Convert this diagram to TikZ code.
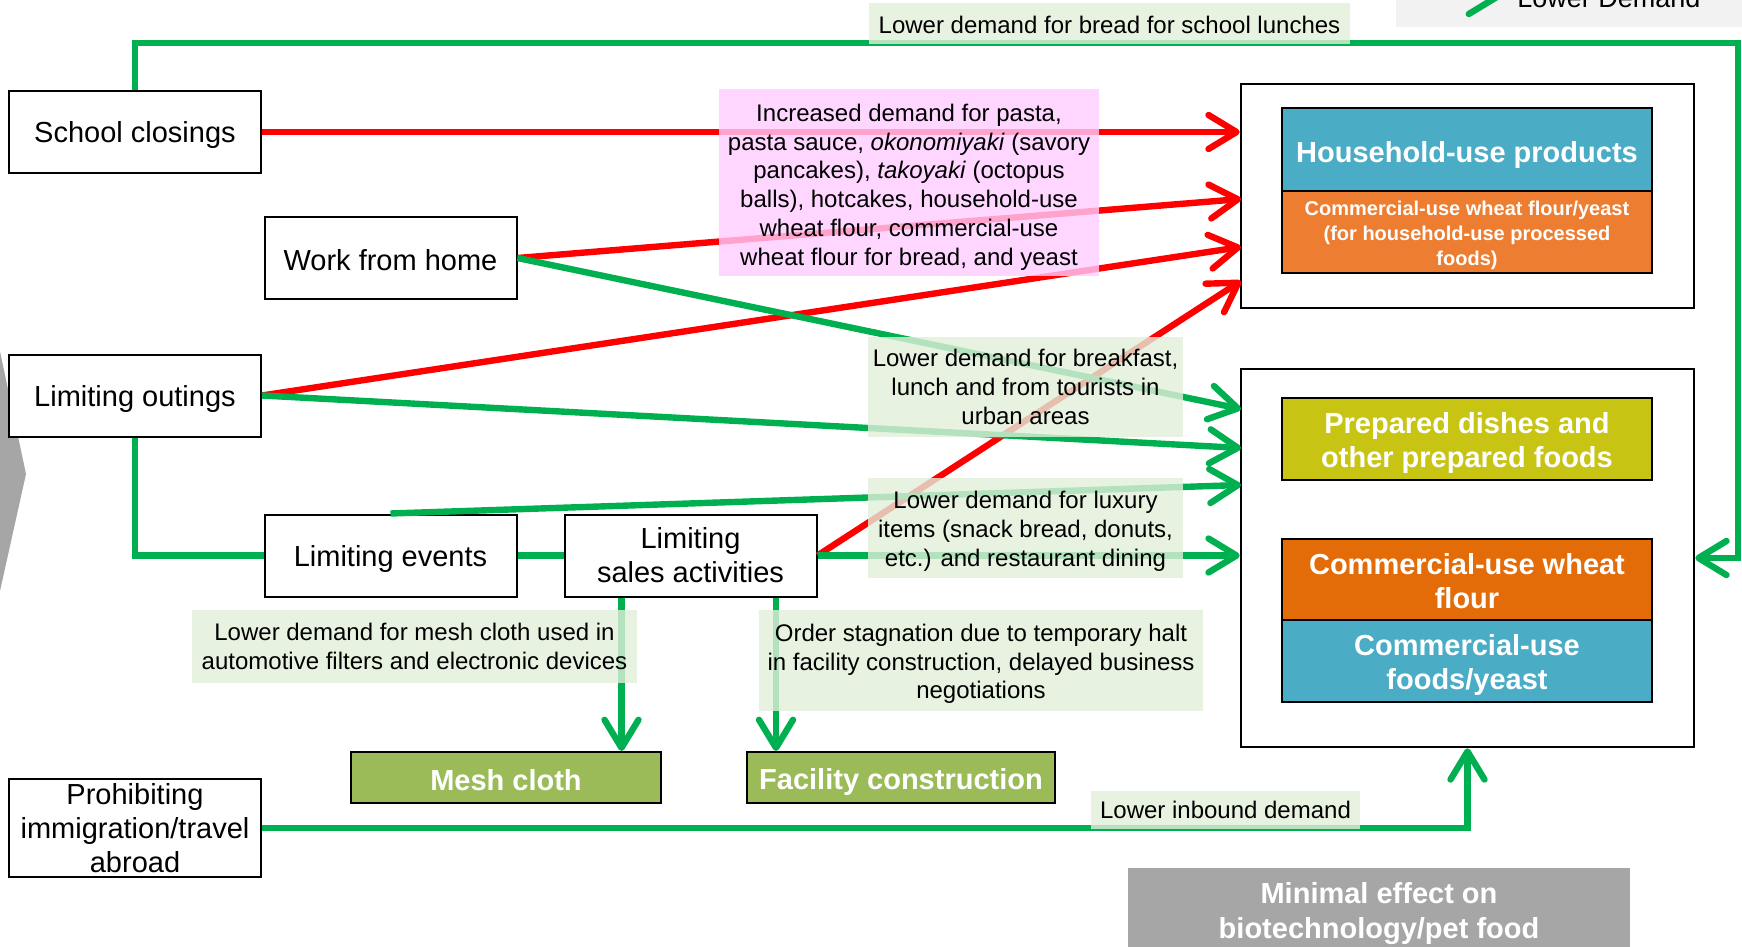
\documentclass[tikz,border=0pt]{standalone}
\usepackage{fontspec}
\setmainfont{Liberation Sans}
\usetikzlibrary{arrows.meta}
\definecolor{lessgreen}{HTML}{00B050}
\definecolor{morered}{HTML}{FF0000}
\definecolor{notegreen}{HTML}{E2EFDA}
\definecolor{notepink}{HTML}{FFCCFF}
\definecolor{hhblue}{HTML}{4BACC6}
\definecolor{hhorange}{HTML}{ED7D31}
\definecolor{bizorange}{HTML}{E36C09}
\definecolor{prepyellow}{HTML}{C8C414}
\definecolor{meshgreen}{HTML}{9BBB59}
\definecolor{minigray}{HTML}{A6A6A6}
\definecolor{keygray}{HTML}{F2F2F2}
\newcommand\liftline[1]{\rule{0pt}{#1}}
\begin{document}
\begin{tikzpicture}[x=0.5pt,y=-0.5pt]
  \tikzstyle{every node}=[inner sep=0pt,align=center]
  \tikzstyle{cause}=[draw,fill=white,line width=1pt,minimum width=126pt,minimum height=41pt,font=\fontsize{14.5}{17}\selectfont]
  \tikzstyle{prod}=[draw,line width=1pt,minimum width=185pt,text=white,font=\bfseries\fontsize{14.5}{17}\selectfont]
  \tikzstyle{note}=[fill=notegreen,fill opacity=0.8,text opacity=1,font=\fontsize{12}{14.4}\selectfont]
  \tikzstyle{more}=[draw=morered,line width=3.2pt,-{Straight Barb[length=14pt,width=17pt,round]}]
  \tikzstyle{less}=[draw=lessgreen,line width=3.2pt,-{Straight Barb[length=14pt,width=17pt,round]}]
  \tikzstyle{link}=[draw=lessgreen,line width=3.2pt]
  \useasboundingbox (0,0) rectangle (1742,947);
  % legend, cut at the top
  \fill [keygray] (1396,-10) rectangle (1760,27);
  \coordinate (keyA) at (1413,-3);
  \coordinate (keyB) at (1500,-3);
  \draw [less] (keyA) -- (keyB);
  \node (keytext) [anchor=base west,font=\fontsize{13.5}{16}\selectfont] at (1517,8) {Lower Demand};
  \fill [minigray] (-2,342) -- (26,474) -- (-2,600) -- cycle;
  % products
  \node (topbox) [draw,line width=1.3pt,minimum width=226.5pt,minimum height=112pt] at (1467.5,196) {};
  \node (lowbox) [draw,line width=1.3pt,minimum width=226.5pt,minimum height=189pt] at (1467.5,558) {};
  \node (hhprod) [prod,fill=hhblue,minimum height=41.5pt] at (1467,149.5) {\liftline{16pt}Household-use products};
  \node (hhflour) [prod,fill=hhorange,minimum height=41pt,font=\bfseries\fontsize{10}{12.5}\selectfont] at (1467,232) {\liftline{10.3pt}Commercial-use wheat flour/yeast\\(for household-use processed\\foods)};
  \node (prep) [prod,fill=prepyellow,minimum height=41pt] at (1467,439) {\liftline{15pt}Prepared dishes and\\other prepared foods};
  \node (bizflour) [prod,fill=bizorange,minimum height=40.5pt] at (1467,579.5) {\liftline{12.3pt}Commercial-use wheat\\flour};
  \node (bizfood) [prod,fill=hhblue,minimum height=41pt] at (1467,661) {\liftline{14.5pt}Commercial-use\\foods/yeast};
  \node (mesh) [prod,fill=meshgreen,minimum width=155pt,minimum height=25.5pt] at (506,777.5) {\liftline{12.8pt}Mesh cloth};
  \node (plant) [prod,fill=meshgreen,minimum width=154pt,minimum height=25.5pt] at (901,777.5) {\liftline{15pt}Facility construction};
  \node (minor) [fill=minigray,text=white,font=\bfseries\fontsize{14.5}{17.5}\selectfont,minimum width=251pt,minimum height=43pt] at (1379,911) {\liftline{13.4pt}Minimal effect on\\biotechnology/pet food};
  % causes
  \node (school) [cause] at (135,132) {\liftline{13.4pt}School closings};
  \node (wfh) [cause] at (390.5,258) {\liftline{12.5pt}Work from home};
  \node (outings) [cause] at (135,395.5) {\liftline{14pt}Limiting outings};
  \node (events) [cause] at (390.5,555.5) {\liftline{13.8pt}Limiting events};
  \node (sales) [cause] at (690.5,555.5) {Limiting\\sales activities};
  \node (ban) [cause,minimum height=49pt] at (135,828) {Prohibiting\\immigration/travel\\abroad};
  % arrow ends
  \coordinate (inT1) at (1241,199);
  \coordinate (inT2) at (1241,247);
  \coordinate (inT3) at (1241,281);
  \coordinate (inL1) at (1241,409);
  \coordinate (inL2) at (1241,448);
  \coordinate (inL3) at (1241,485);
  \coordinate (rt) at (1738,43);
  \coordinate (meshin) at ([xshift=29pt]sales.south west);
  \coordinate (plantin) at ([xshift=-20.75pt]sales.south east);
  % increased demand
  \draw [more] (school.east) -- (school.east -| topbox.west);
  \draw [more] (wfh.east) -- (inT1);
  \draw [more] (outings.east) -- (inT2);
  \draw [more] (sales.east) -- (inT3);
  % lower demand
  \draw [less] (school.north) |- (rt) |- (lowbox.east);
  \draw [less] (wfh.east) -- (inL1);
  \draw [less] (outings.east) -- (inL2);
  \draw [less] (events.north) -- (inL3);
  \draw [link] (outings.south) |- (events.west);
  \draw [link] (events.east) -- (sales.west);
  \draw [less] (sales.east) -- (sales.east -| lowbox.west);
  \draw [less] (meshin) -- (meshin |- mesh.north);
  \draw [less] (plantin) -- (plantin |- plant.north);
  \draw [less] (ban.east) -| (lowbox.south);
  % labels
  \node (breadnote) [note,minimum width=240.5pt,minimum height=20.5pt] at (1109.5,23.5) {\liftline{9.9pt}Lower demand for bread for school lunches};
  \node (pinknote) [note,fill=notepink,minimum width=190pt,minimum height=93.5pt] at (909,182.5) {\liftline{13.2pt}Increased demand for pasta,\\pasta sauce, \textit{okonomiyaki} (savory\\pancakes), \textit{takoyaki} (octopus\\balls), hotcakes, household-use\\wheat flour, commercial-use\\wheat flour for bread, and yeast};
  \node (mealnote) [note,minimum width=157.5pt,minimum height=50pt] at (1025.5,387) {Lower demand for breakfast,\\lunch and from tourists in\\urban areas};
  \node (luxnote) [note,minimum width=157.5pt,minimum height=50pt] at (1025.5,528) {\liftline{12.1pt}Lower demand for luxury\\items (snack bread, donuts,\\etc.) and restaurant dining};
  \node (meshnote) [note,minimum width=222.5pt,minimum height=36.5pt] at (414.5,646.5) {Lower demand for mesh cloth used in\\automotive filters and electronic devices};
  \node (ordernote) [note,minimum width=222pt,minimum height=50.5pt] at (981,660.5) {\liftline{12.1pt}Order stagnation due to temporary halt\\in facility construction, delayed business\\negotiations};
  \node (inbnote) [note,minimum width=134.5pt,minimum height=19pt] at (1225.5,810) {Lower inbound demand};
\end{tikzpicture}
\end{document}
